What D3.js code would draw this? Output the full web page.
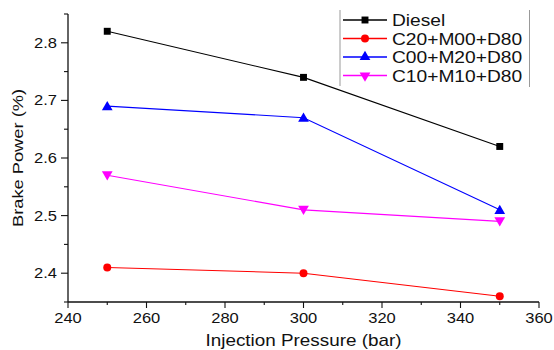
<!DOCTYPE html>
<html>
<head>
<meta charset="utf-8">
<script src="https://cdn.jsdelivr.net/npm/d3@7"></script>
<style>
  html, body { margin: 0; padding: 0; background: #fff; }
  svg { display: block; }
  text { font-family: "Liberation Sans", Arial, sans-serif; fill: #111; }
</style>
</head>
<body>
<svg id="chart" width="554" height="350"></svg>
<script>
// Injection pressure levels (bar)
const pressures = [250, 300, 350];

// Brake power for each fuel blend
const diesel      = [2.82, 2.74, 2.62];
const c20m00d80   = [2.41, 2.40, 2.36];
const c00m20d80   = [2.69, 2.67, 2.51];
const c10m10d80   = [2.57, 2.51, 2.49];

const seriesNames = ["Diesel", "C20+M00+D80", "C00+M20+D80", "C10+M10+D80"];
const seriesValues = [diesel, c20m00d80, c00m20d80, c10m10d80];
const seriesColors = ["#000000", "#ff0000", "#0000ff", "#ff00ff"];
const seriesSymbols = [d3.symbolSquare, d3.symbolCircle, d3.symbolTriangle, "triangleDown"];

const xTicks = [240, 260, 280, 300, 320, 340, 360];
const yTicks = [2.4, 2.5, 2.6, 2.7, 2.8];

const xTitle = "Injection Pressure (bar)";
const yTitle = "Brake Power (%)";

const svg = d3.select("#chart");
const plotLeft = 68, plotRight = 539, plotTop = 14, plotBottom = 302;
const stretch = 1.18;

const x = d3.scaleLinear().domain([240, 360]).range([plotLeft, plotRight]);
const y = d3.scaleLinear().domain([2.35, 2.85]).range([plotBottom, plotTop]);

// Marker helpers
function markerPath(sym, size) {
  return d3.symbol(sym === "triangleDown" ? d3.symbolTriangle : sym, size)();
}
function markerTransform(sym, cx, cy) {
  return sym === "triangleDown"
    ? `translate(${cx},${cy}) rotate(180)`
    : `translate(${cx},${cy})`;
}
const markerSizes = [48, 50, 50, 50];

// X axis: baseline, major/minor ticks, labels
const gx = svg.append("g").attr("transform", `translate(0,${plotBottom})`);
gx.append("line").attr("x1", plotLeft).attr("x2", plotRight).attr("y1", 0).attr("y2", 0)
  .attr("stroke", "#111").attr("stroke-width", 1.3);
gx.selectAll(".tk").data(d3.range(240, 361, 10)).join("line")
  .attr("x1", d => x(d)).attr("x2", d => x(d))
  .attr("y1", 0).attr("y2", d => d % 20 === 0 ? 6 : 3)
  .attr("stroke", "#111").attr("stroke-width", 1.1);
gx.selectAll(".lb").data(xTicks).join("text")
  .attr("transform", d => `translate(${x(d)},21) scale(${stretch},1)`)
  .attr("text-anchor", "middle")
  .attr("font-size", 14)
  .text(d => d);

// Y axis
const gy = svg.append("g").attr("transform", `translate(${plotLeft},0)`);
gy.append("line").attr("x1", 0).attr("x2", 0).attr("y1", plotTop).attr("y2", plotBottom)
  .attr("stroke", "#111").attr("stroke-width", 1.3);
const yMinor = d3.range(2.35, 2.851, 0.05).map(v => +v.toFixed(2));
gy.selectAll(".tk").data(yMinor).join("line")
  .attr("x1", d => (Math.round(d * 100) % 10 === 0) ? -7 : -4).attr("x2", 0)
  .attr("y1", d => y(d)).attr("y2", d => y(d))
  .attr("stroke", "#111").attr("stroke-width", 1.1);
gy.selectAll(".lb").data(yTicks).join("text")
  .attr("transform", d => `translate(-11,${y(d) + 5}) scale(${stretch},1)`)
  .attr("text-anchor", "end")
  .attr("font-size", 14)
  .text(d => d.toFixed(1));

// Axis titles
svg.append("text")
  .attr("transform", `translate(${(plotLeft + plotRight) / 2},346) scale(${stretch},1)`)
  .attr("text-anchor", "middle")
  .attr("font-size", 16)
  .text(xTitle);
svg.append("text")
  .attr("transform", `translate(23,${(plotTop + plotBottom) / 2}) rotate(-90) scale(${stretch},1)`)
  .attr("text-anchor", "middle")
  .attr("font-size", 15.5)
  .text(yTitle);

// Series lines and markers
const line = d3.line().x((d, i) => x(pressures[i])).y(d => y(d));
seriesValues.forEach((vals, s) => {
  const sym = seriesSymbols[s];
  const dy = sym === "triangleDown" ? -1 : sym === d3.symbolTriangle ? 1 : 0;
  svg.append("path").datum(vals)
    .attr("d", line)
    .attr("fill", "none")
    .attr("stroke", seriesColors[s])
    .attr("stroke-width", 1.1);
  svg.selectAll(null).data(vals).join("path")
    .attr("d", markerPath(sym, markerSizes[s]))
    .attr("transform", (d, i) => markerTransform(sym, x(pressures[i]), y(d) + dy))
    .attr("fill", seriesColors[s]);
});

// Legend
const lg = svg.append("g");
lg.append("line").attr("x1", 340).attr("x2", 340).attr("y1", 10).attr("y2", 86)
  .attr("stroke", "#999").attr("stroke-width", 1);
lg.append("line").attr("x1", 529.5).attr("x2", 529.5).attr("y1", 10).attr("y2", 87)
  .attr("stroke", "#999").attr("stroke-width", 1);
seriesNames.forEach((name, s) => {
  const cy = 20 + s * 18.5;
  lg.append("line").attr("x1", 343).attr("x2", 387).attr("y1", cy).attr("y2", cy)
    .attr("stroke", seriesColors[s]).attr("stroke-width", 1.3);
  lg.append("path")
    .attr("d", markerPath(seriesSymbols[s], markerSizes[s]))
    .attr("transform", markerTransform(seriesSymbols[s], 365, cy))
    .attr("fill", seriesColors[s]);
  lg.append("text")
    .attr("transform", `translate(392,${cy + 6}) scale(1.2,1)`)
    .attr("font-size", 16)
    .text(name);
});
</script>
</body>
</html>
